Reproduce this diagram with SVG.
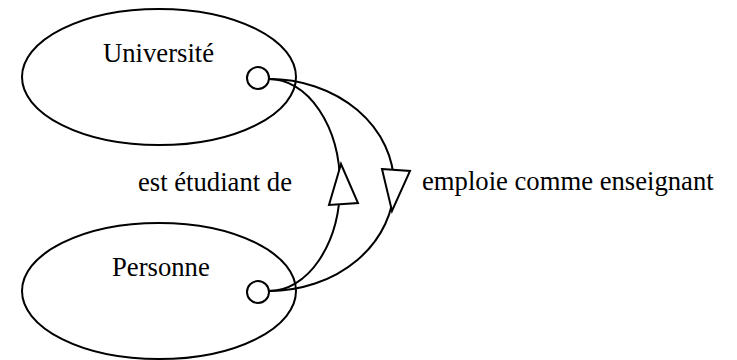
<svg xmlns="http://www.w3.org/2000/svg" width="737" height="360" viewBox="0 0 737 360">
  <style>
    .shape { fill: #fff; stroke: #000; stroke-width: 2; }
    .wire { fill: none; stroke: #000; stroke-width: 2; }
    .head { fill: #fff; stroke: #000; stroke-width: 2; stroke-linejoin: miter; }
    text { font-family: "Liberation Serif", "Times New Roman", serif; font-size: 26.67px; fill: #000; }
  </style>
  <rect width="737" height="360" fill="#fff"/>

  <g id="universite">
    <ellipse class="shape" cx="159" cy="77" rx="137" ry="68"/>
    <text x="103" y="62">Université</text>
  </g>

  <g id="personne">
    <ellipse class="shape" cx="159" cy="291" rx="137" ry="68"/>
    <text x="112" y="276">Personne</text>
  </g>

  <g id="connectors">
    <!-- est étudiant de : Personne -> Université -->
    <path class="wire" d="M269,79 A71,106 0 0 1 269,291"/>
    <polygon class="head" points="341,164 329,205 358,203"/>
    <!-- emploie comme enseignant : Université -> Personne -->
    <path class="wire" d="M269,79 A125,106 0 0 1 269,291"/>
    <polygon class="head" points="382,169 410,171 392,211"/>
    <text x="138" y="191">est étudiant de</text>
    <text x="422" y="190">emploie comme enseignant</text>
  </g>

  <g id="ports">
    <circle class="shape" cx="258" cy="78" r="11"/>
    <circle class="shape" cx="258" cy="292" r="11"/>
  </g>
</svg>
